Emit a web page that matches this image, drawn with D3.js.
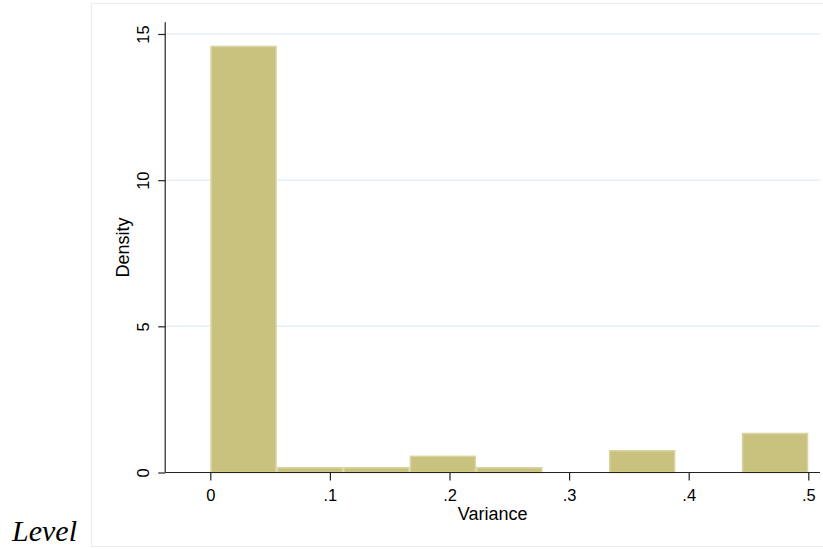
<!DOCTYPE html>
<html>
<head>
<meta charset="utf-8">
<script src="https://cdn.jsdelivr.net/npm/d3@7/dist/d3.min.js"></script>
<style>
  html, body { margin: 0; padding: 0; background: #fff; }
  svg { display: block; }
</style>
</head>
<body>
<svg id="chart" width="823" height="549"></svg>
<script>
// Histogram of variance (density scale)
const binEdges = [0, 0.0556, 0.1111, 0.1667, 0.2222, 0.2778, 0.3333, 0.3889, 0.4444, 0.5];
const densities = [14.6, 0.19, 0.19, 0.58, 0.19, 0, 0.77, 0, 1.36];
const xTicks = [0, 0.1, 0.2, 0.3, 0.4, 0.5];
const xTickLabels = ["0", ".1", ".2", ".3", ".4", ".5"];
const yTicks = [0, 5, 10, 15];
const yTickLabels = ["0", "5", "10", "15"];

const svg = d3.select("#chart");
const font = "'Liberation Sans', Arial, Helvetica, sans-serif";

// graph region outline
svg.append("rect")
  .attr("x", 91.5).attr("y", 3.5)
  .attr("width", 760).attr("height", 543)
  .attr("fill", "#fff")
  .attr("stroke", "#ececec").attr("stroke-width", 1);

const x = d3.scaleLinear().domain([0, 0.5]).range([210.3, 808.3]);
const y = d3.scaleLinear().domain([0, 15]).range([472.5, 34]);

const xMin = -0.0377, xMax = 0.5098;
const yMax = 15.4;

// horizontal grid
svg.append("g")
  .selectAll("line")
  .data(yTicks.filter(d => d > 0))
  .join("line")
  .attr("x1", x(xMin)).attr("x2", x(xMax))
  .attr("y1", d => y(d)).attr("y2", d => y(d))
  .attr("stroke", "#e8eff4").attr("stroke-width", 1.5);

// bars
svg.append("g")
  .selectAll("rect")
  .data(densities.map((v, i) => ({ v, x0: binEdges[i], x1: binEdges[i + 1] })).filter(d => d.v > 0))
  .join("rect")
  .attr("x", d => x(d.x0) + 0.75)
  .attr("width", d => x(d.x1) - x(d.x0) - 1.5)
  .attr("y", d => y(d.v) + 0.75)
  .attr("height", d => Math.max(0, y(0) - y(d.v) - 0.75))
  .attr("fill", "#c9c27f")
  .attr("stroke", "#d9d5a3")
  .attr("stroke-width", 1.5);

// x axis
const xAxis = d3.axisBottom(x)
  .tickValues(xTicks)
  .tickFormat((d, i) => xTickLabels[i])
  .tickSizeInner(8).tickSizeOuter(0);
const gx = svg.append("g").attr("transform", `translate(0,${y(0)})`).call(xAxis);
gx.select(".domain").remove();
gx.append("line")
  .attr("x1", x(xMin)).attr("x2", x(xMax))
  .attr("y1", 0).attr("y2", 0)
  .attr("stroke", "#222").attr("stroke-width", 1.2);
gx.selectAll(".tick line").attr("stroke", "#222").attr("stroke-width", 1.2);
gx.selectAll(".tick text")
  .attr("font-family", font).attr("font-size", 16.5)
  .attr("fill", "#000").attr("dy", "1.05em");

// y axis
const yAxis = d3.axisLeft(y)
  .tickValues(yTicks)
  .tickFormat((d, i) => yTickLabels[i])
  .tickSizeInner(7).tickSizeOuter(0);
const gy = svg.append("g").attr("transform", `translate(${x(xMin)},0)`).call(yAxis);
gy.select(".domain").remove();
gy.append("line")
  .attr("x1", 0).attr("x2", 0)
  .attr("y1", y(0)).attr("y2", y(yMax))
  .attr("stroke", "#222").attr("stroke-width", 1.2);
gy.selectAll(".tick line").attr("stroke", "#222").attr("stroke-width", 1.2);
gy.selectAll(".tick text")
  .attr("font-family", font).attr("font-size", 16.5)
  .attr("fill", "#000")
  .attr("x", 0).attr("dy", 0)
  .attr("text-anchor", "middle")
  .attr("transform", "translate(-16,0) rotate(-90)");

// axis titles
svg.append("text")
  .attr("x", (x(xMin) + x(xMax)) / 2).attr("y", 520)
  .attr("text-anchor", "middle")
  .attr("font-family", font).attr("font-size", 18)
  .text("Variance");

svg.append("text")
  .attr("transform", `translate(129,${(y(0) + y(yMax)) / 2}) rotate(-90)`)
  .attr("text-anchor", "middle")
  .attr("font-family", font).attr("font-size", 18)
  .text("Density");

// panel label
svg.append("text")
  .attr("x", 12).attr("y", 541)
  .attr("font-family", "'Liberation Serif', 'DejaVu Serif', serif")
  .attr("font-style", "italic")
  .attr("font-size", 30)
  .text("Level");
</script>
</body>
</html>
